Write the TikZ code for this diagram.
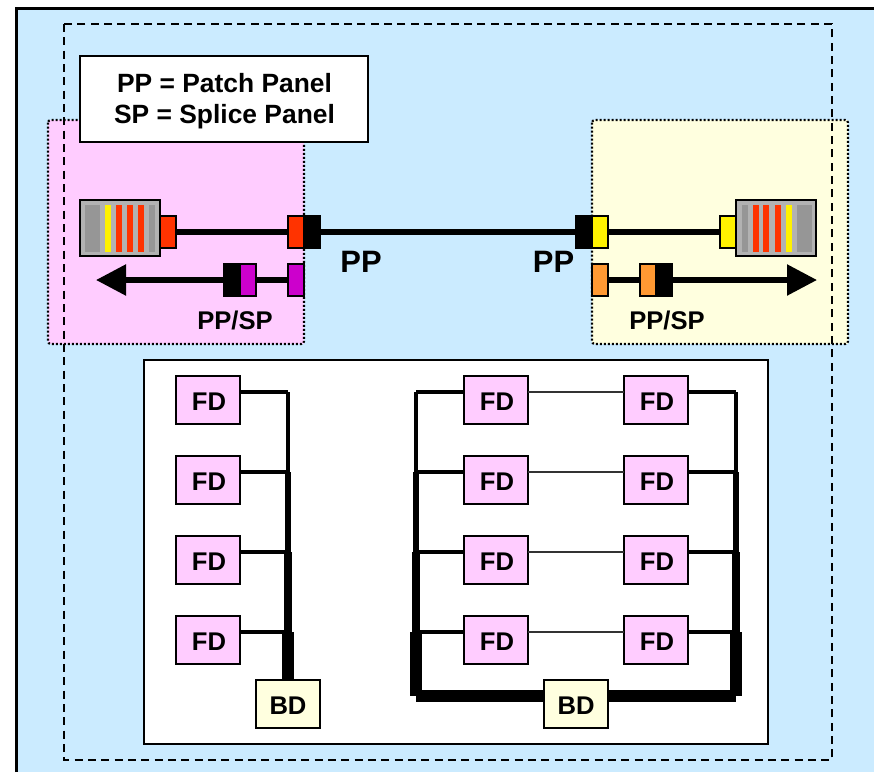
\documentclass[tikz,border=0pt]{standalone}
\usepackage{fontspec}
\setmainfont{Liberation Sans}
\usetikzlibrary{arrows.meta}
\definecolor{bgblue}{HTML}{CBEBFF}
\definecolor{pinkc}{HTML}{FFCCFF}
\definecolor{yellowc}{HTML}{FFFFDF}
\definecolor{redc}{HTML}{FF3300}
\definecolor{purplec}{HTML}{CC00CC}
\definecolor{orangec}{HTML}{FF9933}
\definecolor{graya}{HTML}{B2B2B2}
\definecolor{grayb}{HTML}{969696}
\tikzset{
  x=0.75pt,y=-0.75pt,
  frameline/.style={line width=2.25pt,draw=black},
  dashedbox/.style={line width=1.3pt,draw=black,dash pattern=on 6pt off 4pt},
  dottedbox/.style={line width=1.6pt,draw=black,dash pattern=on 1.5pt off 1.5pt,rounded corners=2pt},
  lab/.style={font=\fontsize{19.2}{23}\selectfont\bfseries,text=black,inner sep=0pt},
  leglab/.style={font=\fontsize{19.8}{23.25}\selectfont\bfseries,text=black,inner sep=0pt,align=center},
  biglab/.style={font=\fontsize{23.2}{26}\selectfont\bfseries,text=black,inner sep=0pt},
  panelbox/.style={draw=black,line width=1.2pt,inner sep=0pt,outer sep=0pt},
  fdbox/.style={panelbox,fill=pinkc,minimum width=48pt,minimum height=36pt,lab,text height=15pt,text depth=0pt},
  bdbox/.style={panelbox,fill=yellowc,minimum width=48pt,minimum height=36pt,lab,text height=15pt,text depth=0pt},
  conn/.style={draw=black,line width=1.2pt,inner sep=0pt,outer sep=0pt,minimum width=12pt,minimum height=24pt},
  pc/.style={draw=black,line width=1.8pt,fill=graya,inner sep=0pt,outer sep=0pt,minimum width=60pt,minimum height=42pt},
  fibre/.style={line width=4.1pt,draw=black},
  linkthin/.style={line width=1.3pt,draw=black!80},
  stub/.style={line width=2.5pt,draw=black},
  busa/.style={line width=2.6pt,draw=black},
  busb/.style={line width=4.1pt,draw=black},
  busc/.style={line width=6.2pt,draw=black},
  busd/.style={line width=8.6pt,draw=black},
}
\begin{document}
\begin{tikzpicture}
\useasboundingbox (0,0) rectangle (874,772);
% background and frame
\fill[bgblue] (16,8) rectangle (874,772);
\draw[frameline] (16,772) -- (16,8) -- (874,8);
% sites
\path[fill=pinkc] (48,120) rectangle (304,344);
\path[fill=yellowc] (592,120) rectangle (848,344);
\draw[dottedbox] (48,120) rectangle (304,344);
\draw[dottedbox] (592,120) rectangle (848,344);
% campus boundary
\draw[dashedbox] (64,24) rectangle (832,760);
% legend
\node[panelbox,fill=white,minimum width=216pt,minimum height=64.5pt] (legend) at (224,99) {};
\node[leglab] (legendtext) at (224.5,101) {PP = Patch Panel\\SP = Splice Panel};
% white panel
\node[panelbox,fill=white,minimum width=468pt,minimum height=288pt] (panel) at (456,552) {};

% upper link
\node[pc] (pcL) at (120,228) {};
\node[pc] (pcR) at (776,228) {};
\fill[grayb] (85,205) rectangle (100,252);
\fill[yellow] (105,205) rectangle (111,252);
\fill[redc] (116,205) rectangle (122,252);
\fill[redc] (127,205) rectangle (133,252);
\fill[redc] (138,205) rectangle (144,252);
\fill[grayb] (149,205) rectangle (155,252);
\fill[grayb] (742,205) rectangle (748,252);
\fill[redc] (753,205) rectangle (759,252);
\fill[redc] (763,205) rectangle (769,252);
\fill[redc] (775,205) rectangle (781,252);
\fill[yellow] (786,205) rectangle (792,252);
\fill[grayb] (797,205) rectangle (812,252);

\node[conn,fill=redc] (c1) at (168,232) {};
\node[conn,fill=redc] (c2) at (296,232) {};
\node[conn,fill=black] (c3) at (312,232) {};
\node[conn,fill=black] (c4) at (584,232) {};
\node[conn,fill=yellow] (c5) at (600,232) {};
\node[conn,fill=yellow] (c6) at (728,232) {};
\draw[fibre] (c1.east) -- (c2.west);
\draw[fibre] (c3.east) -- (c4.west);
\draw[fibre] (c5.east) -- (c6.west);

% lower links
\node[conn,fill=black] (d1) at (232,280) {};
\node[conn,fill=purplec] (d2) at (248,280) {};
\node[conn,fill=purplec] (d3) at (296,280) {};
\coordinate (tipL) at (96,280);
\draw[fibre,-{Triangle[length=22.5pt,width=22.5pt]}] (d1.west) -- (tipL);
\draw[fibre] (d2.east) -- (d3.west);
\node[conn,fill=orangec] (e1) at (600,280) {};
\node[conn,fill=orangec] (e2) at (648,280) {};
\node[conn,fill=black] (e3) at (664,280) {};
\coordinate (tipR) at (817,280);
\draw[fibre] (e1.east) -- (e2.west);
\draw[fibre,-{Triangle[length=22.5pt,width=22.5pt]}] (e3.east) -- (tipR);

% labels
\node[biglab] (ppL) at (361,262) {PP};
\node[biglab] (ppR) at (553.5,262) {PP};
\node[lab] (psL) at (235,320) {PP/SP};
\node[lab] (psR) at (667,320) {PP/SP};

% floor distributors
\foreach \n/\y in {1/400,2/480,3/560,4/640}{
  \node[fdbox] (a\n) at (208,\y) {\kern1.5pt FD};
  \node[fdbox] (b\n) at (496,\y) {\kern1.5pt FD};
  \node[fdbox] (f\n) at (656,\y) {\kern1.5pt FD};
  \draw[linkthin] ([yshift=6pt]b\n.east) -- ([yshift=6pt]f\n.west);
}
\node[bdbox] (bdL) at (288,704) {BD};
\node[bdbox] (bdR) at (576,704) {BD};

% tree bus
\foreach \n/\y in {1/392,2/472,3/552,4/632}{
  \coordinate (t\n) at (288,\y);
  \coordinate (l\n) at (416,\y);
  \coordinate (r\n) at (736,\y);
  \draw[stub] ([yshift=6pt]a\n.east) -- (t\n);
  \draw[stub] ([yshift=6pt]b\n.west) -- (l\n);
  \draw[stub] ([yshift=6pt]f\n.east) -- (r\n);
}
\draw[busa] (t1) -- (t2);
\draw[busb] (t2) -- (t3);
\draw[busc] (t3) -- (t4);
\draw[busd] (t4) -- (bdL.north);
\draw[busa] (l1) -- (l2);
\draw[busb] (l2) -- (l3);
\draw[busc] (l3) -- (l4);
\draw[busa] (r1) -- (r2);
\draw[busb] (r2) -- (r3);
\draw[busc] (r3) -- (r4);
\coordinate (lc) at (416,696);
\coordinate (rc) at (736,696);
\draw[busd] (l4) -- (lc);
\draw[busd] (r4) -- (rc);
\draw[busd] (lc) -- ([yshift=6pt]bdR.west);
\draw[busd] ([yshift=6pt]bdR.east) -- (rc);
\end{tikzpicture}
\end{document}
